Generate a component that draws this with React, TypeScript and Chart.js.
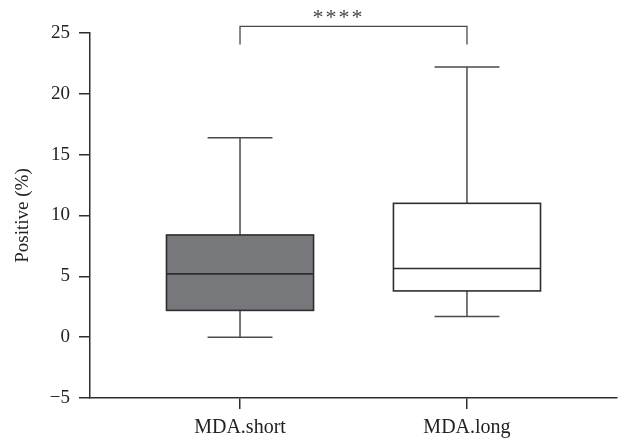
import React, { useEffect, useRef } from "react";
import { Chart, registerables } from "chart.js";

Chart.register(...registerables);

const categories = ["MDA.short", "MDA.long"];
const minValues = [0, 1.7];
const q1Values = [2.2, 3.8];
const medianValues = [5.2, 5.65];
const q3Values = [8.4, 11.0];
const maxValues = [16.4, 22.2];
const boxFills = ["#77787c", "#ffffff"];
const yTicks = [-5, 0, 5, 10, 15, 20, 25];
const significanceLabel = "****";
const bracketTop = 25.55;
const bracketLegBottom = 24.05;

const FONT = "'Liberation Serif', 'Times New Roman', serif";
const INK = "#2e2e2e";

const boxPlugin = {
  id: "boxplotDraw",
  afterDatasetsDraw(chart: any) {
    const { ctx, scales } = chart;
    const xs = scales.x;
    const ys = scales.y;
    const boxHalf = 0.324;
    const capHalf = 0.143;
    ctx.save();
    categories.forEach((_, i) => {
      const cx = xs.getPixelForValue(i);
      const l = xs.getPixelForValue(i - boxHalf);
      const r = xs.getPixelForValue(i + boxHalf);
      const cl = xs.getPixelForValue(i - capHalf);
      const cr = xs.getPixelForValue(i + capHalf);
      const yMin = ys.getPixelForValue(minValues[i]);
      const yQ1 = ys.getPixelForValue(q1Values[i]);
      const yMed = ys.getPixelForValue(medianValues[i]);
      const yQ3 = ys.getPixelForValue(q3Values[i]);
      const yMax = ys.getPixelForValue(maxValues[i]);
      ctx.strokeStyle = "#4a4a4a";
      ctx.lineWidth = 1.5;
      ctx.beginPath();
      ctx.moveTo(cx, yQ3);
      ctx.lineTo(cx, yMax);
      ctx.moveTo(cl, yMax);
      ctx.lineTo(cr, yMax);
      ctx.moveTo(cx, yQ1);
      ctx.lineTo(cx, yMin);
      ctx.moveTo(cl, yMin);
      ctx.lineTo(cr, yMin);
      ctx.stroke();
      ctx.fillStyle = boxFills[i];
      ctx.fillRect(l, yQ3, r - l, yQ1 - yQ3);
      ctx.strokeStyle = INK;
      ctx.lineWidth = 1.6;
      ctx.strokeRect(l, yQ3, r - l, yQ1 - yQ3);
      ctx.beginPath();
      ctx.moveTo(l, yMed);
      ctx.lineTo(r, yMed);
      ctx.stroke();
    });
    // significance bracket
    const x0 = xs.getPixelForValue(0);
    const x1 = xs.getPixelForValue(1);
    const yt = ys.getPixelForValue(bracketTop);
    const yb = ys.getPixelForValue(bracketLegBottom);
    ctx.strokeStyle = "#4a4a4a";
    ctx.lineWidth = 1.3;
    ctx.beginPath();
    ctx.moveTo(x0, yb);
    ctx.lineTo(x0, yt);
    ctx.lineTo(x1, yt);
    ctx.lineTo(x1, yb);
    ctx.stroke();
    ctx.fillStyle = "#444";
    ctx.font = `22px ${FONT}`;
    (ctx as any).letterSpacing = "2px";
    ctx.textAlign = "center";
    ctx.textBaseline = "alphabetic";
    ctx.fillText(significanceLabel, xs.getPixelForValue(0.43) + 1, yt - 2);
    ctx.restore();
  },
};

export default function App() {
  const ref = useRef<HTMLCanvasElement>(null);
  useEffect(() => {
    document.body.style.margin = "0";
    const chart = new Chart(ref.current as HTMLCanvasElement, {
      type: "scatter",
      data: {
        datasets: [
          {
            data: medianValues.map((m, i) => ({ x: i, y: m })),
            pointRadius: 0,
            pointHoverRadius: 0,
          },
        ],
      },
      options: {
        animation: false,
        responsive: false,
        events: [],
        layout: { padding: { top: 33, right: 4, left: 0, bottom: 0 } },
        plugins: { legend: { display: false }, tooltip: { enabled: false } },
        font: { family: FONT },
        scales: {
          x: {
            type: "linear",
            min: -0.661,
            max: 1.661,
            afterBuildTicks: (s: any) => {
              s.ticks = categories.map((_, i) => ({ value: i }));
            },
            afterFit: (s: any) => {
              s.height = 42;
            },
            grid: {
              drawOnChartArea: false,
              drawTicks: true,
              tickLength: 11,
              color: INK,
              lineWidth: 1.5,
            },
            border: { display: true, color: INK, width: 1.5 },
            ticks: {
              padding: 7,
              color: "#222",
              maxRotation: 0,
              font: { family: FONT, size: 20 },
              callback: (v: any) => categories[Math.round(Number(v))] ?? "",
            },
          },
          y: {
            type: "linear",
            min: -5,
            max: 25,
            afterBuildTicks: (s: any) => {
              s.ticks = yTicks.map((v) => ({ value: v }));
            },
            afterFit: (s: any) => {
              s.width = 90;
            },
            grid: {
              drawOnChartArea: false,
              drawTicks: true,
              tickLength: 11,
              color: INK,
              lineWidth: 1.5,
            },
            border: { display: true, color: INK, width: 1.5 },
            ticks: {
              padding: 9,
              color: "#222",
              font: { family: FONT, size: 19 },
              callback: (v: any) =>
                Number(v) < 0 ? "\u2212" + Math.abs(Number(v)) : String(v),
            },
            title: {
              display: true,
              text: "Positive (%)",
              color: "#222",
              font: { family: FONT, size: 19 },
              padding: { top: 12, bottom: 0 },
            },
          },
        },
      },
      plugins: [boxPlugin],
    } as any);
    return () => chart.destroy();
  }, []);
  return (
    <div style={{ position: "absolute", left: 0, top: 0, width: 621, height: 440 }}>
      <canvas ref={ref} width={621} height={440} />
    </div>
  );
}
